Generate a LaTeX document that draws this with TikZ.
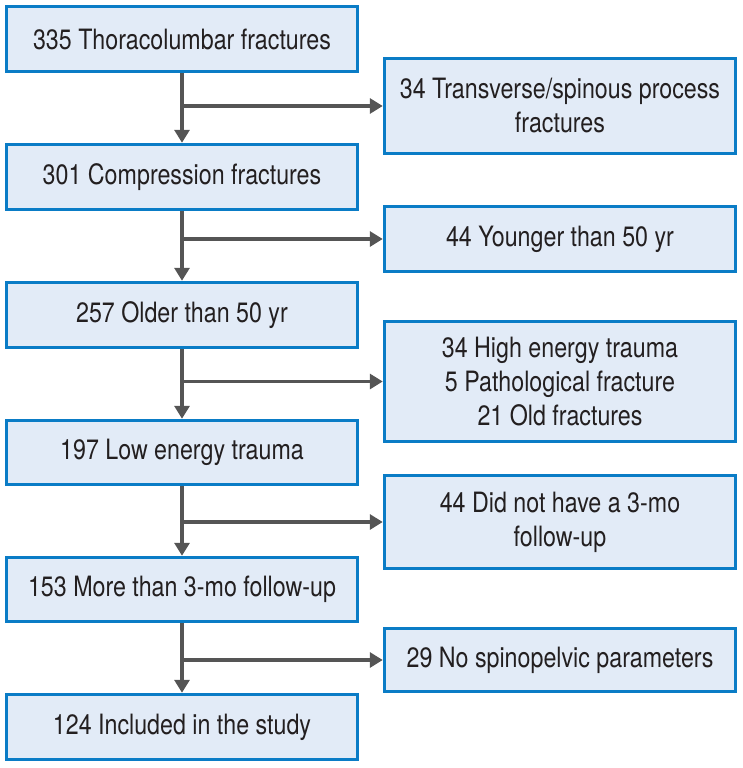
\documentclass[tikz,border=0pt]{standalone}
\usepackage{fontspec}
\setmainfont{TeX Gyre Heros}[FakeStretch=0.83]
\usetikzlibrary{arrows.meta}
\definecolor{boxblue}{HTML}{0A7CC6}
\definecolor{boxfill}{HTML}{E2EBF7}
\definecolor{arrgrey}{HTML}{555555}
\definecolor{txt}{HTML}{231F20}
\tikzset{
  flowbox/.style={draw=boxblue,fill=boxfill,line width=3.5pt,align=center,text=txt,
    minimum width=351pt,inner sep=0pt,font=\fontsize{28}{34}\selectfont},
  arr/.style={draw=arrgrey,line width=3.5pt,-{Triangle[length=13pt,width=15pt]}}
}

\begin{document}
\begin{tikzpicture}[x=1pt,y=-1pt]
                \useasboundingbox (0,0) rectangle (743,768);
                % main column
                \node[flowbox,minimum height=65pt] (tot) at (182,39) {335 Thoracolumbar fractures};
                \node[flowbox,minimum height=65pt] (comp) at (182,177) {301 Compression fractures};
                \node[flowbox,minimum height=65pt] (old) at (182,315) {257 Older than 50 yr};
                \node[flowbox,minimum height=64pt] (low) at (182,452.5) {197 Low energy trauma};
                \node[flowbox,minimum height=64pt] (fup) at (182,589.5) {153 More than 3-mo follow-up};
                \node[flowbox,minimum height=65pt] (incl) at (182,727) {124 Included in the study};
                % excluded
                \node[flowbox,minimum height=95pt] (exA) at (560,106) {34 Transverse/spinous process\\fractures};
                \node[flowbox,minimum height=65pt] (exB) at (560,239) {44 Younger than 50 yr};
                \node[flowbox,minimum height=120pt] (exC) at (560,381.5) {34 High energy trauma\\5 Pathological fracture\\21 Old fractures};
                \node[flowbox,minimum height=93pt] (exD) at (560,522) {44 Did not have a 3-mo\\follow-up};
                \node[flowbox,minimum height=63pt] (exE) at (560,660) {29 No spinopelvic parameters};
                % arrows
                \draw[arr] (tot) -- (comp);
                \draw[arr] (comp) -- (old);
                \draw[arr] (old) -- (low);
                \draw[arr] (low) -- (fup);
                \draw[arr] (fup) -- (incl);
                \draw[arr] (tot.south |- exA.west) -- (exA.west);
                \draw[arr] (comp.south |- exB.west) -- (exB.west);
                \draw[arr] (old.south |- exC.west) -- (exC.west);
                \draw[arr] (low.south |- exD.west) -- (exD.west);
                \draw[arr] (fup.south |- exE.west) -- (exE.west);
            \end{tikzpicture}
\end{document}
